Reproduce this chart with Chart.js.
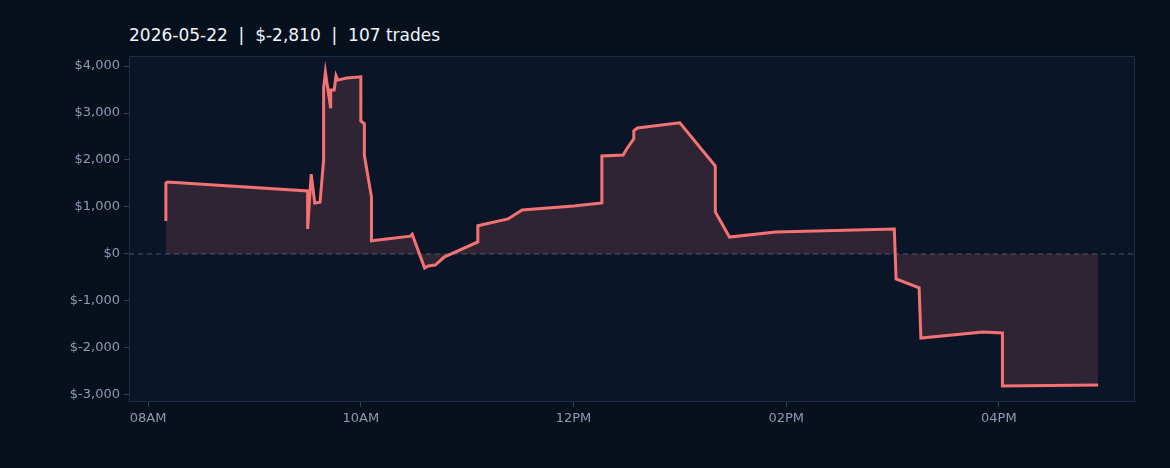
<!DOCTYPE html>
<html>
<head>
<meta charset="utf-8">
<script src="https://cdn.jsdelivr.net/npm/chart.js@4/dist/chart.umd.min.js"></script>
<style>
  html, body { margin: 0; padding: 0; background: #07111e; }
  #wrap { position: relative; width: 1170px; height: 468px; }
  #title { position: absolute; left: 129px; top: 25px; color: #f1f5f9; font: 17px "DejaVu Sans", sans-serif; }
  canvas { position: absolute; left: 0; top: 0; }
</style>
</head>
<body>
<div id="wrap">
  <div id="title">2026-05-22 &nbsp;|&nbsp; $-2,810 &nbsp;|&nbsp; 107 trades</div>
  <canvas id="c" width="1170" height="468"></canvas>
</div>
<script>
// ----------------------------
// Data: cumulative P&L over the session
// ----------------------------
var times = ['08:10', '08:10', '08:11', '09:30', '09:30', '09:32', '09:34', '09:37', '09:39', '09:39',
  '09:40', '09:43', '09:43', '09:45', '09:46', '09:47', '09:52', '10:00', '10:00', '10:02',
  '10:02', '10:06', '10:06', '10:28', '10:29', '10:36', '10:38', '10:42', '10:47', '11:06',
  '11:06', '11:23', '11:31', '12:00', '12:16', '12:16', '12:28', '12:30', '12:34', '12:34',
  '12:36', '13:00', '13:20', '13:20', '13:28', '13:54', '15:01', '15:02', '15:15', '15:16',
  '15:51', '16:02', '16:02', '16:56'];
var pnl = [702, 1510, 1532, 1340, 532, 1700, 1085, 1100, 2000, 3530,
  3870, 3100, 3490, 3490, 3790, 3700, 3745, 3770, 2830, 2770,
  2100, 1210, 280, 380, 420, -300, -255, -235, -65, 255,
  600, 745, 935, 1020, 1085, 2085, 2105, 2235, 2450, 2620,
  2680, 2790, 1870, 895, 360, 470, 530, -530, -720, -1790,
  -1660, -1680, -2810, -2790];
var xTicks = [8, 10, 12, 14, 16];

function toHours(t) {
    var p = t.split(':');
    return +p[0] + (+p[1]) / 60;
}

var points = times.map(function (t, i) { return { x: toHours(t), y: pnl[i] }; });

function hourLabel(h) {
    var hh = h % 12 === 0 ? 12 : h % 12;
    return (hh < 10 ? '0' : '') + hh + (h < 12 ? 'AM' : 'PM');
}

var areaPlugin = {
    id: 'areaDeco',
    beforeDatasetsDraw: function (chart) {
        var a = chart.chartArea, ctx = chart.ctx;
        var y0 = chart.scales.y.getPixelForValue(0);
        ctx.save();
        ctx.fillStyle = '#0a1628';
        ctx.fillRect(a.left, a.top, a.right - a.left, a.bottom - a.top);
        ctx.strokeStyle = '#475569';
        ctx.setLineDash([5, 4]);
        ctx.lineWidth = 1;
        ctx.beginPath();
        ctx.moveTo(a.left, y0);
        ctx.lineTo(a.right, y0);
        ctx.stroke();
        ctx.setLineDash([]);
        ctx.strokeStyle = '#1e2d45';
        ctx.strokeRect(a.left + 0.5, a.top + 0.5, a.right - a.left - 1, a.bottom - a.top - 1);
        ctx.restore();
    }
};

new Chart(document.getElementById('c').getContext('2d'), {
    type: 'line',
    data: {
        datasets: [{
            data: points,
            borderColor: '#f47272',
            backgroundColor: 'rgba(244,114,114,0.16)',
            borderWidth: 3,
            pointRadius: 0,
            tension: 0,
            fill: 'origin'
        }]
    },
    options: {
        responsive: false,
        animation: false,
        layout: { padding: { top: 56, right: 35 } },
        plugins: { legend: { display: false }, tooltip: { enabled: false } },
        scales: {
            x: {
                type: 'linear',
                min: 7.82,
                max: 17.28,
                afterBuildTicks: function (s) { s.ticks = xTicks.map(function (v) { return { value: v }; }); },
                afterFit: function (s) { s.height = 66; },
                grid: { drawOnChartArea: false, color: '#334155', tickLength: 5 },
                border: { display: false },
                ticks: { color: '#8b9bb4', font: { size: 13, family: 'DejaVu Sans' }, padding: 4, maxRotation: 0,
                    callback: function (v) { return hourLabel(v); } }
            },
            y: {
                min: -3150,
                max: 4213,
                afterBuildTicks: function (s) {
                    var t = [];
                    for (var v = -3000; v <= 4000; v += 1000) t.push({ value: v });
                    s.ticks = t;
                },
                afterFit: function (s) { s.width = 129; },
                grid: { drawOnChartArea: false, color: '#334155', tickLength: 5 },
                border: { display: false },
                ticks: { color: '#8b9bb4', font: { size: 13, family: 'DejaVu Sans' }, padding: 4,
                    callback: function (v) { return '$' + v.toLocaleString('en-US'); } }
            }
        }
    },
    plugins: [areaPlugin]
});
</script>
</body>
</html>
